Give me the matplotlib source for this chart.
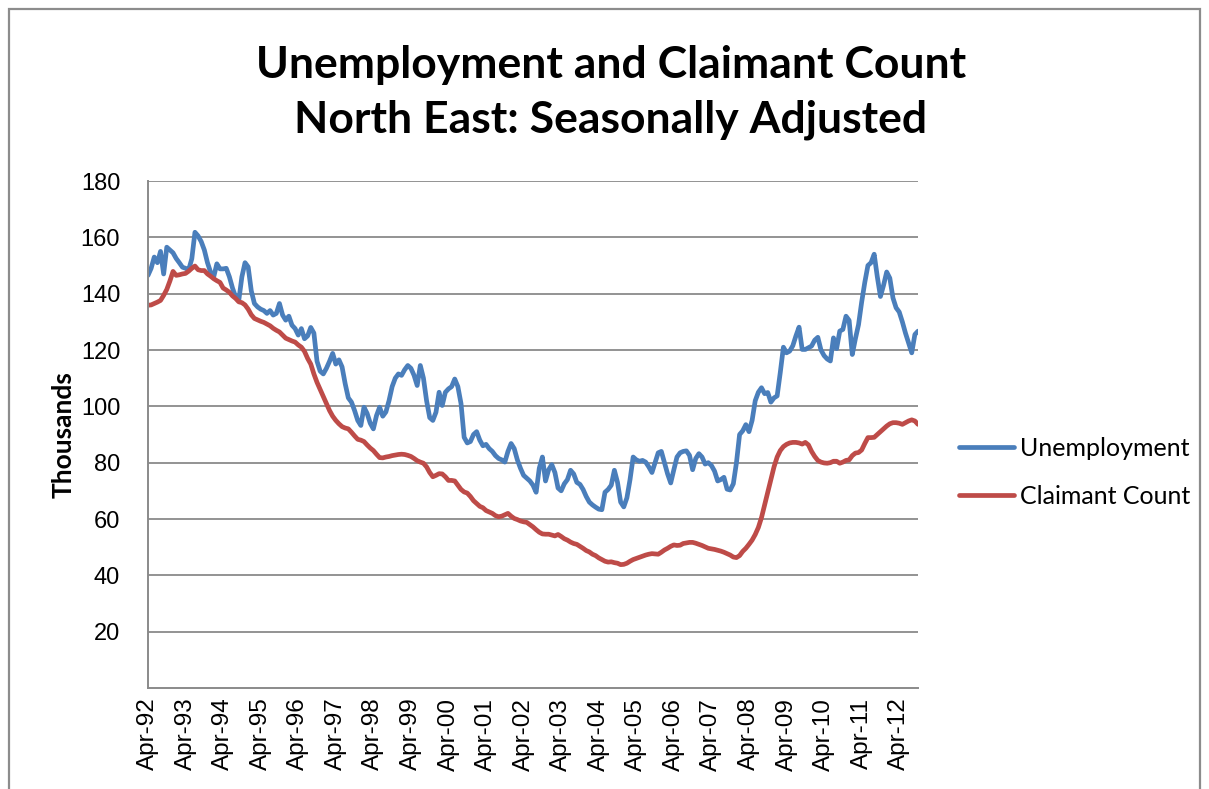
import matplotlib
matplotlib.use("Agg")
import matplotlib.pyplot as plt
from matplotlib.patches import Rectangle
import numpy as np

# Monthly data, Apr-92 .. Oct-12 (thousands)
unemployment = [
    146.5, 149, 153, 151, 155, 147, 156.5, 155.5, 154.5, 152.5, 151, 149.4,
    149, 148.5, 152.4, 161.8, 160.5, 158.5, 155.5, 151, 147.6, 146, 150.6, 148.8,
    148.8, 149, 146, 142, 138.8, 137.6, 146, 151, 149.5, 141, 136.5, 135.3,
    134.5, 134, 133, 134, 132.4, 133, 136.5, 132.4, 130.6, 132, 128.8, 127.6,
    125.3, 127.6, 124, 125, 128, 126, 116, 112.5, 111.5, 113.5, 116, 118.8,
    115, 116.5, 114, 108, 103, 101.5, 98.5, 95, 93.2, 99.7, 97.5, 94,
    92, 96.7, 99.7, 96.5, 98, 102, 107, 110, 111.5, 111, 113, 114.5,
    113.5, 111, 107.4, 114.5, 110, 102, 96, 95, 97.9, 105, 100.3, 105,
    106.2, 107, 109.7, 107, 101, 89, 87, 87.5, 90, 91, 88, 86,
    86.5, 85, 84, 82.5, 81.5, 81, 80.2, 84, 86.8, 85, 81, 78,
    75.5, 74.5, 73.5, 72, 69.5, 78, 82, 73.5, 77.5, 79.3, 76.5, 71,
    70, 72.5, 74, 77.3, 76, 73, 72.3, 70.5, 68, 66, 65, 64.2,
    63.5, 63.3, 69.5, 70.5, 72, 77.3, 73, 66, 64.3, 67.5, 74, 82,
    81, 80.5, 80.8, 80.2, 78.5, 76.5, 80, 83.5, 84, 80, 76, 72.8,
    77.5, 82, 83.5, 84, 84.2, 82.6, 77.5, 81.5, 83.2, 82, 79.5, 80,
    79, 77, 73.5, 74, 74.8, 70.6, 70.3, 72.5, 80, 90, 91.3, 93.5,
    91, 95, 102, 105, 106.6, 104.5, 104.9, 101.5, 103, 103.7, 112, 121,
    119, 119.6, 121.5, 125, 128.1, 120.2, 120.2, 120.8, 121.4, 123.5, 124.5, 120,
    118, 116.8, 116.1, 124.3, 120.5, 126.7, 127.3, 132, 130.5, 118.4, 124, 129,
    137, 144, 150, 151, 154, 146, 139, 143, 147.7, 145.5, 138.5, 135,
    133.5, 130, 126, 122.5, 119, 125.5, 126.7,
]

claimant_count = [
    135.9, 136, 136.5, 137, 137.6, 139.4, 141.5, 144.5, 147.9, 146.5, 146.7, 147,
    147.2, 148, 149, 149.8, 148.5, 148.2, 148.2, 147, 146.2, 145.3, 144.6, 144,
    142, 141.3, 140.5, 139.2, 138.3, 137.1, 136.8, 136, 134.5, 132.5, 131.2, 130.7,
    130.2, 129.8, 129.2, 128.6, 127.7, 127, 126.4, 125.3, 124.2, 123.7, 123.2, 122.8,
    121.8, 121, 119.5, 117, 115, 111.5, 108.5, 106, 103.5, 101, 98.5, 96.5,
    95, 93.8, 92.8, 92.3, 92, 90.8, 89.5, 88.3, 88, 87.5, 86.3, 85.2,
    84.3, 83, 81.8, 81.7, 82, 82.2, 82.5, 82.7, 82.9, 83, 82.9, 82.6,
    82.2, 81.5, 80.7, 80.2, 79.8, 78.5, 76.5, 75, 75.5, 76.1, 76, 75,
    73.7, 73.7, 73.5, 72, 70.5, 69.6, 69.2, 68, 66.5, 65.5, 64.5, 64,
    63, 62.5, 62, 61.2, 60.8, 61, 61.5, 62, 61, 60.2, 59.8, 59.3,
    59, 58.8, 58, 57.2, 56.2, 55.3, 54.7, 54.6, 54.6, 54.3, 54, 54.5,
    53.8, 53, 52.5, 51.8, 51.3, 51, 50.3, 49.6, 48.8, 48.3, 47.5, 47,
    46.2, 45.6, 45, 44.7, 44.8, 44.5, 44.3, 43.8, 43.9, 44.3, 45, 45.6,
    46, 46.4, 46.8, 47.2, 47.5, 47.7, 47.6, 47.5, 48.2, 49, 49.6, 50.3,
    50.8, 50.6, 50.7, 51.3, 51.5, 51.7, 51.7, 51.4, 51, 50.6, 50.1, 49.6,
    49.4, 49.2, 48.9, 48.6, 48.2, 47.7, 47.2, 46.5, 46.3, 47, 48.5, 49.6,
    51, 52.5, 54.5, 57, 60.5, 65, 69.5, 74, 78.5, 82, 84.3, 85.7,
    86.5, 87, 87.2, 87.2, 87, 86.6, 87.2, 86.3, 84, 82.2, 80.8, 80.2,
    79.9, 79.8, 80, 80.5, 80.5, 79.8, 80.2, 80.8, 81, 82.5, 83.4, 83.6,
    84.5, 86.8, 88.9, 88.9, 89, 90, 91, 92, 93, 93.8, 94.2, 94.2,
    94, 93.6, 94.2, 94.8, 95.2, 94.8, 93.6,
]

tick_labels = ["Apr-92", "Apr-93", "Apr-94", "Apr-95", "Apr-96", "Apr-97", "Apr-98",
               "Apr-99", "Apr-00", "Apr-01", "Apr-02", "Apr-03", "Apr-04", "Apr-05",
               "Apr-06", "Apr-07", "Apr-08", "Apr-09", "Apr-10", "Apr-11", "Apr-12"]
y_ticks = [20, 40, 60, 80, 100, 120, 140, 160, 180]

W, H = 1209, 789
fig = plt.figure(figsize=(W / 100, H / 100), dpi=100)
fig.patch.set_facecolor("white")

# outer chart frame
fig.patches.append(Rectangle((9 / W, -0.05), (1200 - 9) / W, 1.05 - 9 / H,
                             transform=fig.transFigure, fill=False,
                             edgecolor="#8c8c8c", linewidth=1.6))

ax = fig.add_axes([148 / W, 1 - 688 / H, (918 - 148) / W, (688 - 181) / H])
x = np.arange(len(unemployment))
ax.plot(x, unemployment, color="#4A7EBB", lw=3.4, label="Unemployment",
        solid_joinstyle="round", solid_capstyle="round")
ax.plot(x, claimant_count, color="#BE4B48", lw=3.4, label="Claimant Count",
        solid_joinstyle="round", solid_capstyle="round")

ax.set_xlim(0, len(unemployment) - 1)
ax.set_ylim(0, 180)
ax.set_yticks(y_ticks)
ax.set_yticklabels([str(v) for v in y_ticks], fontsize=17, family="Liberation Sans")
ax.set_xticks(np.arange(len(tick_labels)) * 12)
ax.set_xticklabels(tick_labels, rotation=90, fontsize=17.5, family="Liberation Sans",
                   ha="center", va="top")
ax.tick_params(axis="y", length=0, pad=20)
ax.tick_params(axis="x", length=0, pad=7)
ax.grid(axis="y", color="#8a8a8a", lw=1.3)
ax.set_axisbelow(True)
for s in ["top", "right"]:
    ax.spines[s].set_visible(False)
for s in ["left", "bottom"]:
    ax.spines[s].set_color("#8a8a8a")
    ax.spines[s].set_linewidth(1.4)

ax.set_ylabel("Thousands", fontsize=19, fontweight="bold", family="Lato", labelpad=3.5)

fig.text(611 / W, 1 - 78 / H, "Unemployment and Claimant Count", ha="center",
         va="baseline", fontsize=32, fontweight="bold", family="Lato")
fig.text(611 / W, 1 - 133 / H, "North East: Seasonally Adjusted", ha="center",
         va="baseline", fontsize=32, fontweight="bold", family="Lato")

leg = ax.legend(loc="center left", bbox_to_anchor=(936 / W, 1 - 472 / H),
                bbox_transform=fig.transFigure, frameon=False,
                prop={"family": "Lato", "size": 18}, handlelength=2.2,
                handletextpad=0.25, labelspacing=1.0)

fig.savefig("out.png", dpi=100, facecolor="white")
